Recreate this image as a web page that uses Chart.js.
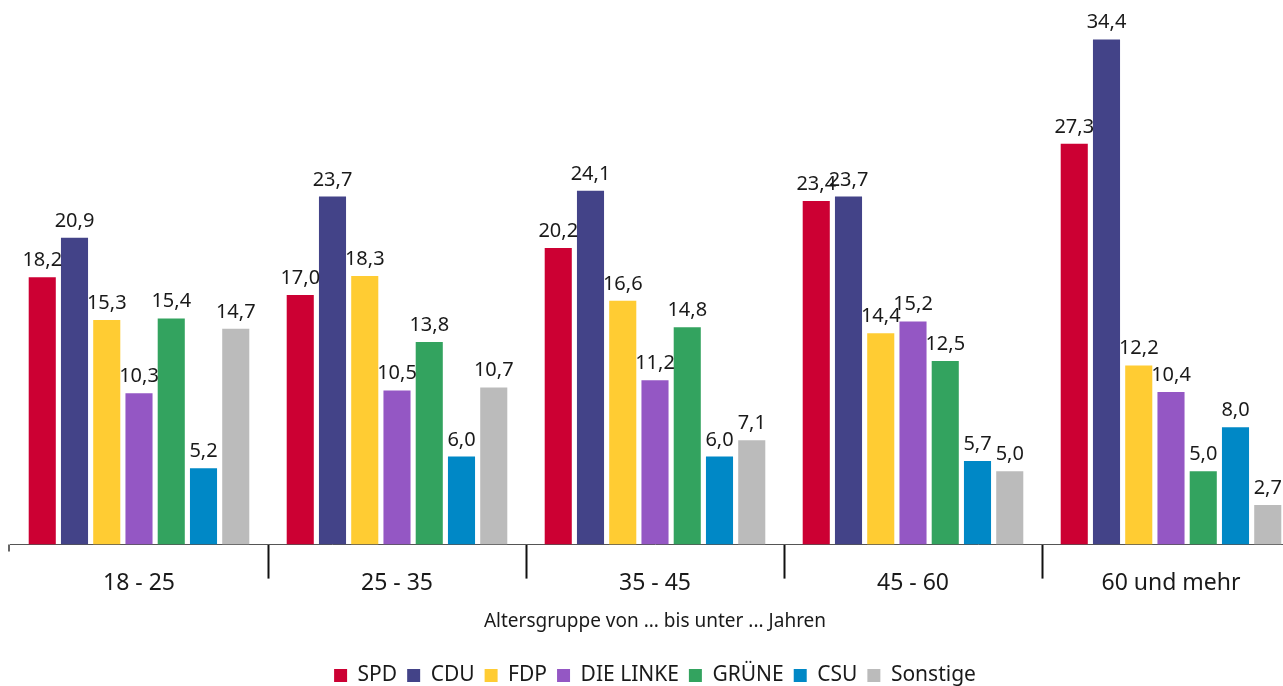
<!DOCTYPE html>
<html><head><meta charset="utf-8">
<script src="https://cdn.jsdelivr.net/npm/chart.js@4"></script>
<style>
html,body{margin:0;padding:0;background:#fff;overflow:hidden;width:1283px;height:686px;}
#wrap{position:absolute;left:0;top:0;width:1300px;height:686px;}
</style></head>
<body>
<div id="wrap"><canvas id="c"></canvas></div>
<script>
const categories = ['18 - 25', '25 - 35', '35 - 45', '45 - 60', '60 und mehr'];
const parties = ['SPD', 'CDU', 'FDP', 'DIE LINKE', 'GRÜNE', 'CSU', 'Sonstige'];
const spd      = [18.2, 17.0, 20.2, 23.4, 27.3];
const cdu      = [20.9, 23.7, 24.1, 23.7, 34.4];
const fdp      = [15.3, 18.3, 16.6, 14.4, 12.2];
const linke    = [10.3, 10.5, 11.2, 15.2, 10.4];
const gruene   = [15.4, 13.8, 14.8, 12.5, 5.0];
const csu      = [5.2, 6.0, 6.0, 5.7, 8.0];
const sonstige = [14.7, 10.7, 7.1, 5.0, 2.7];
const colors = ['#CC0033', '#434388', '#FFCC33', '#9457C4', '#33A35F', '#0088C6', '#BBBBBB'];
const seriesValues = [spd, cdu, fdp, linke, gruene, csu, sonstige];
const axisTitle = 'Altersgruppe von ... bis unter ... Jahren';

const FONT = '"Noto Sans", sans-serif';

const valueLabels = {
  id: 'valueLabels',
  afterDatasetsDraw(chart) {
    const ctx = chart.ctx;
    ctx.save();
    ctx.font = '20px ' + FONT;
    ctx.fillStyle = '#1a1a1a';
    ctx.textAlign = 'center';
    ctx.textBaseline = 'alphabetic';
    chart.data.datasets.forEach((ds, i) => {
      const meta = chart.getDatasetMeta(i);
      meta.data.forEach((el, j) => {
        const v = ds.data[j];
        ctx.fillText(v.toFixed(1).replace('.', ','), el.x, el.y - 11);
      });
    });
    ctx.restore();
  }
};

const firstTick = {
  id: 'firstTick',
  afterDraw(chart) {
    const s = chart.scales.x;
    const ctx = chart.ctx;
    ctx.save();
    ctx.strokeStyle = '#333';
    ctx.lineWidth = 1.5;
    ctx.beginPath();
    ctx.moveTo(s.left - 1, s.top);
    ctx.lineTo(s.left - 1, s.top + 7);
    ctx.stroke();
    ctx.restore();
  }
};

new Chart(document.getElementById('c'), {
  type: 'bar',
  data: {
    labels: categories,
    datasets: parties.map((p, i) => ({
      label: p,
      data: seriesValues[i],
      backgroundColor: colors[i],
      borderWidth: 0,
      barPercentage: 0.84,
      categoryPercentage: 0.875
    }))
  },
  options: {
    responsive: true,
    maintainAspectRatio: false,
    animation: false,
    layout: { padding: { top: 16, left: 10, right: 0, bottom: -10 } },
    plugins: {
      tooltip: { enabled: false },
      legend: {
        position: 'bottom',
        labels: {
          font: { family: FONT, size: 21 },
          color: '#1a1a1a',
          boxWidth: 13,
          boxHeight: 13,
          padding: 10
        }
      }
    },
    scales: {
      x: {
        offset: true,
        grid: {
          offset: true,
          drawOnChartArea: false,
          drawTicks: true,
          tickLength: 34,
          tickWidth: 2,
          tickColor: (c) => c.index === 0 ? 'rgba(0,0,0,0)' : '#111'
        },
        border: { display: true, color: '#555', width: 1 },
        ticks: {
          font: { family: FONT, size: 23 },
          color: '#1a1a1a',
          padding: -9,
          maxRotation: 0
        },
        title: {
          display: true,
          text: axisTitle,
          font: { family: FONT, size: 19 },
          color: '#1a1a1a',
          padding: { top: 22, bottom: 22 }
        }
      },
      y: {
        display: false,
        min: 0,
        max: 36
      }
    }
  },
  plugins: [valueLabels, firstTick]
});
</script>
</body></html>
